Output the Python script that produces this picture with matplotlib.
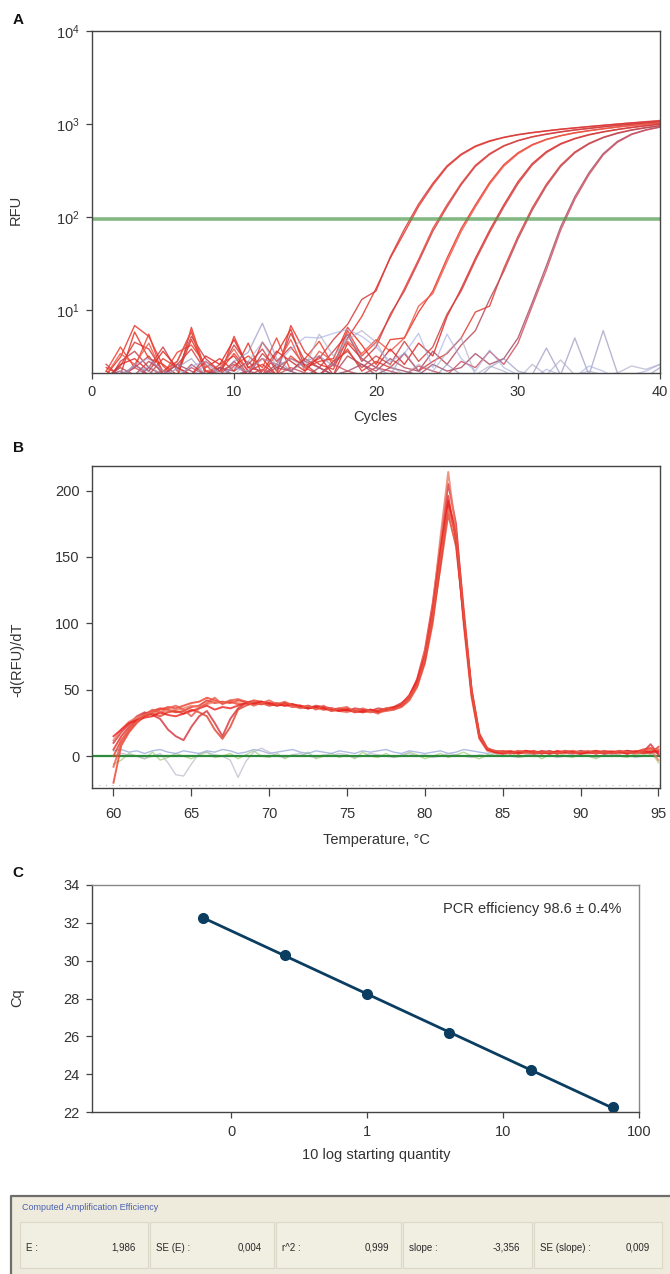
import numpy as np
import matplotlib
matplotlib.use("Agg")
import matplotlib.pyplot as plt
from matplotlib.ticker import FixedLocator, NullLocator, FixedFormatter
from matplotlib.patches import Rectangle

plt.rcParams['font.family'] = ['Liberation Sans', 'DejaVu Sans']
plt.rcParams['text.color'] = '#333333'
plt.rcParams['axes.labelcolor'] = '#333333'
plt.rcParams['xtick.color'] = '#333333'
plt.rcParams['ytick.color'] = '#333333'

### DATA
# A: amplification curves, RFU per cycle
cycles = list(range(1, 41))
amp_curves = {
    'd1a': [2.0, 3.1, 6.8, 5.2, 2.5, 1.8, 6.5, 2.2, 1.9, 5.2, 2.4, 3.0, 2.0, 6.8, 3.5, 2.6, 2.3, 5.0, 8.5, 17,
            36, 68, 130, 220, 345, 465, 570, 650, 715, 765, 805, 840, 875, 905, 935, 965, 995, 1025, 1050, 1075],
    'd1b': [1.8, 2.5, 4.5, 3.8, 2.2, 2.8, 5.8, 2.0, 2.6, 3.2, 2.0, 4.5, 2.8, 4.0, 2.5, 3.0, 4.8, 7.0, 13, 16,
            37, 74, 138, 230, 355, 475, 580, 660, 720, 770, 810, 845, 880, 910, 940, 970, 1000, 1030, 1060, 1090],
    'd2a': [2.2, 4.0, 2.4, 5.5, 2.0, 3.5, 4.2, 2.6, 1.8, 2.5, 3.2, 2.4, 5.0, 2.2, 3.0, 4.6, 2.5, 6.0, 3.2, 4.5,
            8.5, 17, 35, 75, 135, 230, 360, 480, 585, 665, 730, 780, 825, 865, 900, 935, 970, 1000, 1030, 1060],
    'd2b': [1.6, 2.8, 3.6, 2.4, 4.0, 2.2, 5.2, 3.0, 2.2, 4.2, 2.6, 3.8, 2.2, 5.6, 2.8, 2.4, 3.6, 5.5, 2.8, 4.0,
            9.0, 16, 33, 70, 128, 222, 350, 470, 578, 660, 725, 775, 820, 860, 895, 930, 965, 995, 1025, 1055],
    'd3a': [2.4, 2.0, 5.8, 3.0, 2.6, 2.0, 4.8, 2.4, 3.0, 2.2, 4.4, 2.0, 3.4, 6.2, 2.4, 2.8, 3.0, 6.5, 4.2, 2.6,
            4.8, 5.0, 9.5, 16, 36, 75, 135, 235, 365, 490, 600, 685, 750, 805, 850, 890, 930, 965, 1000, 1030],
    'd3b': [2.0, 3.4, 2.6, 4.4, 2.0, 2.8, 6.0, 2.2, 2.4, 3.8, 2.2, 3.0, 2.6, 4.8, 2.2, 3.6, 2.8, 4.6, 3.4, 4.8,
            3.6, 5.0, 11, 15, 33, 70, 128, 225, 352, 478, 590, 678, 745, 800, 845, 885, 925, 960, 995, 1025],
    'd4a': [1.8, 2.6, 3.0, 2.2, 3.6, 2.4, 2.0, 3.2, 2.6, 4.8, 2.4, 2.2, 3.6, 2.8, 2.2, 3.2, 2.0, 4.4, 3.0, 2.4,
            3.8, 2.6, 4.4, 3.2, 8.5, 17, 36, 72, 135, 240, 375, 505, 615, 700, 770, 825, 875, 920, 960, 1000],
    'd4b': [2.6, 1.9, 2.4, 3.2, 2.0, 2.6, 3.8, 2.2, 2.0, 2.8, 2.0, 3.4, 2.4, 3.0, 2.6, 2.0, 2.8, 3.6, 2.4, 3.2,
            2.6, 4.6, 2.8, 4.0, 9.0, 16, 34, 68, 128, 228, 362, 492, 605, 692, 762, 820, 870, 915, 955, 995],
    'd5a': [2.2, 1.8, 2.6, 2.0, 3.0, 2.4, 2.0, 2.8, 2.2, 3.4, 2.2, 2.6, 2.0, 3.2, 2.4, 2.0, 2.6, 3.8, 2.2, 2.8,
            2.4, 3.4, 2.2, 2.8, 3.4, 5.0, 9.5, 11, 28, 62, 125, 225, 360, 500, 620, 720, 800, 865, 915, 960],
    'd5b': [1.9, 2.4, 2.0, 2.8, 2.2, 1.8, 2.6, 2.0, 2.4, 2.2, 2.8, 2.0, 2.4, 2.2, 3.0, 2.4, 2.0, 3.2, 2.6, 2.2,
            3.0, 2.4, 2.2, 3.6, 2.6, 4.2, 6.0, 13, 26, 58, 118, 215, 348, 488, 610, 712, 792, 858, 910, 955],
    'd6a': [2.0, 2.2, 1.8, 2.4, 2.0, 2.6, 2.2, 1.8, 2.4, 2.0, 2.2, 2.0, 2.6, 2.2, 1.9, 2.4, 2.0, 2.2, 2.6, 2.0,
            2.4, 2.2, 2.0, 2.6, 2.2, 2.4, 3.4, 2.6, 3.0, 5.0, 12, 30, 78, 165, 300, 480, 650, 780, 865, 930],
    'd6b': [1.8, 2.0, 2.4, 2.0, 2.2, 1.9, 2.4, 2.0, 2.2, 2.6, 2.0, 2.3, 2.0, 2.4, 2.1, 2.0, 2.6, 2.2, 2.0, 2.4,
            2.2, 2.0, 2.5, 2.2, 2.0, 2.8, 2.4, 3.6, 2.6, 4.4, 11, 27, 72, 155, 285, 465, 635, 770, 858, 925],
}
amp_colors = ['#e8352b', '#d63a3a', '#f0402e', '#c94048', '#e83020', '#ee5a4a',
              '#e02828', '#cf4242', '#e33a30', '#b84a5a', '#a8506a', '#d05060']
ntc_curves = {
    'n1': [1.5, 2.0, 2.5, 2.2, 1.8, 2.4, 3.0, 2.0, 1.6, 2.8, 3.5, 7.2, 3.0, 2.2, 2.8, 3.2, 2.5, 5.5, 3.0, 2.4,
           2.0, 3.5, 2.2, 1.8, 2.6, 2.0, 1.7, 2.4, 3.0, 2.2, 2.0, 3.9, 2.0, 5.0, 2.0, 6.0, 2.1, 1.8, 1.9, 2.4],
    'n2': [2.0, 1.8, 2.6, 3.0, 2.2, 1.9, 2.5, 2.8, 2.0, 2.4, 2.2, 3.0, 2.6, 3.8, 5.1, 5.0, 5.6, 6.2, 5.2, 4.0,
           2.8, 3.4, 5.6, 2.4, 5.5, 3.0, 2.2, 3.7, 2.4, 2.0, 1.8, 2.3, 2.0, 1.9, 2.5, 2.2, 1.8, 2.0, 2.2, 2.6],
    'n3': [1.8, 2.2, 2.0, 2.5, 2.0, 2.3, 1.9, 2.6, 2.1, 2.0, 2.8, 4.5, 2.5, 3.0, 2.4, 5.5, 3.2, 4.8, 6.0, 4.5,
           2.5, 2.0, 2.6, 2.2, 3.5, 5.0, 2.0, 2.5, 2.2, 1.8, 2.6, 2.0, 2.9, 2.0, 2.2, 2.0, 2.1, 2.5, 2.3, 2.6],
}
ntc_colors = ['#8a86b8', '#9fa9e0', '#a4a4c4']
threshold = 95

# B: melt curves, -d(RFU)/dT per 0.5 degC from 60 to 95
temps = np.arange(60, 95.01, 0.5)
melt_curves = {
    'm1': [5, 15, 22, 28, 32, 34, 36, 35, 33, 34, 37, 38, 42, 40, 41, 40, 42, 41, 40, 39, 40, 38, 39, 37, 38,
           36, 37, 35, 36, 34, 35, 34, 35, 33, 34, 35, 36, 38, 44, 55, 75, 108, 152, 196, 162, 102, 46, 14, 5, 3,
           2, 3, 2, 3, 4, 2, 3, 2, 4, 3, 2, 3, 4, 3, 2, 3, 4, 3, 2, 4, 3],
    'm2': [-20, 8, 18, 25, 30, 33, 35, 37, 36, 38, 40, 41, 44, 42, 40, 41, 39, 40, 42, 41, 39, 40, 38, 39, 37,
           38, 36, 37, 35, 36, 34, 35, 33, 34, 33, 34, 35, 37, 42, 52, 70, 100, 145, 190, 170, 110, 50, 16, 6, 3,
           4, 3, 2, 4, 3, 3, 2, 3, 3, 4, 2, 3, 2, 4, 3, 3, 2, 3, 5, 6, 2],
    'm3': [10, 18, 24, 30, 33, 31, 28, 20, 15, 12, 22, 30, 34, 25, 15, 28, 36, 40, 41, 40, 38, 39, 40, 38, 37,
           36, 38, 37, 36, 35, 34, 36, 35, 34, 36, 35, 37, 40, 45, 58, 80, 115, 160, 205, 175, 105, 48, 15, 5, 4,
           3, 2, 3, 3, 2, 4, 3, 2, 3, 2, 4, 3, 3, 2, 3, 2, 4, 3, 3, 9, 1],
    'm4': [12, 20, 26, 29, 31, 33, 32, 34, 35, 36, 38, 37, 39, 41, 40, 42, 40, 39, 41, 40, 38, 40, 39, 37, 38,
           37, 36, 35, 36, 34, 33, 35, 34, 33, 35, 34, 36, 39, 43, 56, 78, 112, 165, 214, 168, 98, 44, 13, 4, 3,
           2, 3, 4, 2, 3, 2, 3, 3, 2, 4, 3, 2, 3, 3, 4, 2, 3, 2, 3, 5, -3],
    'm5': [0, 12, 20, 27, 30, 32, 30, 33, 34, 32, 35, 33, 30, 20, 13, 22, 35, 38, 40, 41, 39, 38, 40, 39, 37,
           36, 37, 36, 34, 35, 36, 34, 33, 35, 34, 36, 37, 38, 44, 54, 72, 104, 142, 182, 158, 104, 50, 17, 6, 3,
           3, 4, 2, 3, 3, 2, 4, 2, 3, 3, 2, 3, 4, 2, 3, 3, 2, 4, 3, 2, 7],
    'm6': [15, 20, 25, 27, 29, 30, 33, 31, 30, 32, 34, 36, 38, 35, 37, 36, 38, 40, 39, 41, 40, 39, 38, 39, 38,
           36, 37, 36, 35, 34, 35, 33, 34, 35, 33, 35, 36, 39, 46, 57, 76, 110, 155, 192, 165, 102, 47, 14, 5, 3,
           2, 3, 3, 4, 2, 3, 2, 4, 3, 3, 2, 3, 2, 3, 3, 4, 2, 3, 4, 3, 4],
    'm7': [-8, 10, 19, 26, 31, 35, 33, 36, 38, 35, 30, 36, 40, 44, 39, 42, 43, 41, 38, 40, 42, 39, 41, 38, 36,
           38, 35, 38, 34, 36, 37, 33, 36, 34, 32, 36, 35, 38, 45, 53, 74, 106, 150, 186, 166, 106, 49, 15, 6, 4,
           3, 2, 4, 3, 2, 3, 3, 2, 4, 2, 3, 4, 2, 3, 2, 4, 3, 2, 4, 6, 5],
}
melt_colors = ['#e82a1e', '#f03c2a', '#d8303a', '#ec7a64', '#e0402a', '#ee2020', '#e85848']
melt_ntc = {
    'green': [-6, -3, 2, 0, -2, 3, -3, -1, 2, 0, -2, 1, 3, -1, 0, 2, -2, 1, 4, 0, -1, 2, -2, 1, 0, 3, -2, 0, 2,
              -1, 1, -2, 3, 0, -1, 2, -1, 0, 3, 1, -2, 0, 2, -1, 1, 3, 0, -2, 1, 2, 0, 3, -1, 0, 2, -2, 1, 3, 0,
              -1, 2, 0, -2, 1, 3, 0, -1, 2, 0, 4, -5],
    'blue': [4, 5, 3, 4, 2, 4, 5, 3, 2, 4, 3, 2, 4, 3, 5, 4, 2, 3, 5, 4, 2, 3, 4, 5, 3, 2, 4, 3, 2, 4, 3, 2, 4,
             3, 4, 5, 3, 2, 4, 3, 2, 3, 4, 2, 3, 5, 4, 3, 2, 4, 3, 2, 3, 4, 2, 3, 4, 3, 2, 3, 4, 2, 3, 4, 3, 2,
             4, 3, 2, 3, 2],
    'gray': [0, 2, 1, 0, -2, 0, 2, -5, -14, -15, -6, 2, 3, 1, 0, -3, -16, -4, 3, 6, 3, 0, -1, 1, 2, 0, -1, 1,
             0, 2, 1, -1, 0, 2, 1, 0, -1, 1, 2, 0, 1, -1, 0, 2, 1, 0, -1, 1, 0, 2, 1, 0, -1, 1, 2, 0, 1, -1, 0,
             2, 1, 0, -1, 1, 2, 0, 1, -1, 0, 1, 0],
}
melt_ntc_colors = ['#9acd70', '#8da0d8', '#b8b8c8']

# C: standard curve
quantity = [0.0625, 0.25, 1, 4, 16, 64]
cq = [32.24, 30.32, 28.25, 26.15, 24.2, 22.26]

# efficiency table
table_labels = ['E :', 'SE (E) :', 'r^2 :', 'slope :', 'SE (slope) :']
table_values = ['1,986', '0,004', '0,999', '-3,356', '0,009']

### FIGURE
W, H = 670, 1274
fig = plt.figure(figsize=(W / 100, H / 100), dpi=100)
fig.patch.set_facecolor('white')


def box(left, top, right, bottom):
    return [left / W, 1 - bottom / H, (right - left) / W, (bottom - top) / H]


def style_axes(ax):
    for s in ax.spines.values():
        s.set_color('#444444')
        s.set_linewidth(1.0)
    ax.tick_params(direction='out', length=4, width=0.9, labelsize=10.5, color='#444444', pad=5)


tsize = 10.5

##Panel A
axA = fig.add_axes(box(92, 31, 660, 373))
for (name, vals), c in zip(amp_curves.items(), amp_colors):
    axA.plot(cycles, vals, color=c, lw=1.0, alpha=0.85)
for (name, vals), c in zip(ntc_curves.items(), ntc_colors):
    axA.plot(cycles, vals, color=c, lw=1.0, alpha=0.6)
axA.axhline(threshold, color='#4f9a4f', lw=2.6, alpha=0.7)
axA.set_yscale('log')
axA.set_xlim(0, 40)
axA.set_ylim(2.1, 1e4)
axA.yaxis.set_major_locator(FixedLocator([10, 100, 1000, 10000]))
axA.yaxis.set_minor_locator(NullLocator())
axA.set_xticks([0, 10, 20, 30, 40])
style_axes(axA)
fig.text(375 / W, 1 - 417 / H, 'Cycles', ha='center', va='center', fontsize=tsize)
fig.text(16 / W, 1 - 210 / H, 'RFU', ha='center', va='center', rotation=90, fontsize=tsize)
fig.text(18 / W, 1 - 20 / H, 'A', ha='center', va='center', fontsize=11, fontweight='bold', color='#111111')

##Panel B
axB = fig.add_axes(box(92, 466, 660, 788))
for (name, vals), c in zip(melt_ntc.items(), melt_ntc_colors):
    axB.plot(temps, vals, color=c, lw=1.0, alpha=0.7)
axB.axhline(0, color='#2e8b3e', lw=1.6)
for (name, vals), c in zip(melt_curves.items(), melt_colors):
    axB.plot(temps, vals, color=c, lw=1.4, alpha=0.8)
axB.axhline(-21.5, color='#bbbbbb', lw=0.8, ls=(0, (1, 5)))
axB.set_xlim(58.62, 95.1)
axB.set_ylim(-24, 218.5)
axB.set_xticks([60, 65, 70, 75, 80, 85, 90, 95])
axB.set_yticks([0, 50, 100, 150, 200])
style_axes(axB)
axB.tick_params(axis='x', length=6, pad=8)
fig.text(376 / W, 1 - 840 / H, 'Temperature, °C', ha='center', va='center', fontsize=tsize)
fig.text(17 / W, 1 - 660 / H, '-d(RFU)/dT', ha='center', va='center', rotation=90, fontsize=tsize)
fig.text(18 / W, 1 - 448 / H, 'B', ha='center', va='center', fontsize=11, fontweight='bold', color='#111111')

##Panel C
axC = fig.add_axes(box(92, 885, 639, 1112))
logq = np.log10(quantity)
slope, icpt = np.polyfit(logq, cq, 1)
xs = np.array([min(logq), max(logq)])
axC.plot(10 ** xs, slope * xs + icpt, color='#0b3d61', lw=2.0)
axC.plot(quantity, cq, 'o', color='#0b3d61', ms=7)
axC.set_xscale('log')
axC.set_xlim(0.0095, 100)
axC.set_ylim(22, 34)
axC.xaxis.set_major_locator(FixedLocator([0.1, 1, 10, 100]))
axC.xaxis.set_major_formatter(FixedFormatter(['0', '1', '10', '100']))
axC.xaxis.set_minor_locator(NullLocator())
axC.set_yticks([22, 24, 26, 28, 30, 32, 34])
style_axes(axC)
axC.spines['top'].set_color('#888888')
axC.spines['right'].set_color('#888888')
axC.text(621 / W, 1 - 909 / H, 'PCR efficiency 98.6 ± 0.4%', transform=fig.transFigure,
         ha='right', va='center', fontsize=tsize)
fig.text(376 / W, 1 - 1155 / H, '10 log starting quantity', ha='center', va='center', fontsize=tsize)
fig.text(17 / W, 1 - 998 / H, 'Cq', ha='center', va='center', rotation=90, fontsize=tsize)
fig.text(18 / W, 1 - 873 / H, 'C', ha='center', va='center', fontsize=11, fontweight='bold', color='#111111')

##Efficiency table (software screenshot)
axT = fig.add_axes([0, 0, 1, 1], zorder=-1)
axT.set_xlim(0, W)
axT.set_ylim(H, 0)
axT.axis('off')
axT.add_patch(Rectangle((11, 1196), 680, 100, facecolor='#eeeadc', edgecolor='none'))
axT.plot([11, 11, 670], [1280, 1196, 1196], color='#6e6e6e', lw=1.6)
axT.text(22, 1207, 'Computed Amplification Efficiency', fontsize=6.5, color='#4a62b0', va='center')
cells = [(20, 148), (150, 274), (276, 401), (403, 532), (534, 662)]
for (l, r), lab, val in zip(cells, table_labels, table_values):
    axT.add_patch(Rectangle((l, 1222), r - l, 46, facecolor='#f1eee2', edgecolor='#dcd8c8', lw=0.8))
    axT.text(l + 6, 1248, lab, fontsize=7, color='#2a2a2a', va='center')
    axT.text(r - 12, 1248, val, fontsize=7, color='#2a2a2a', va='center', ha='right')

plt.savefig('out.png', dpi=100)
